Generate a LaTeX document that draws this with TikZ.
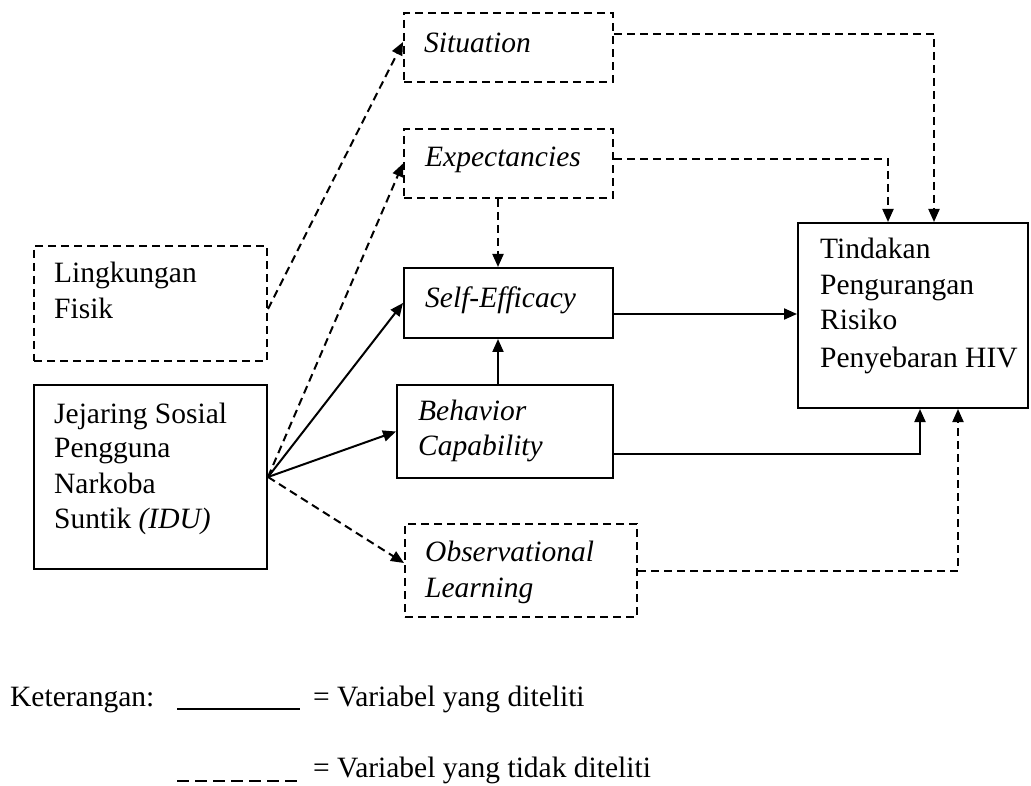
\documentclass[tikz,border=0pt]{standalone}
\usepackage{fontspec}
\setmainfont{Liberation Serif}
\usetikzlibrary{arrows.meta}
\begin{document}
\begin{tikzpicture}[x=1pt,y=-1pt,
  every node/.style={font=\fontsize{29.5}{35.5}\selectfont},
  box/.style={draw, line width=2pt, inner sep=0pt, anchor=north west},
  dbox/.style={box, dash pattern=on 8pt off 5pt},
  lbl/.style={anchor=base west, inner sep=0pt},
  ilbl/.style={lbl, font=\fontsize{29.5}{35.5}\selectfont\itshape},
  arr/.style={line width=2pt, -{Triangle[length=13pt,width=11pt]}},
  darr/.style={arr, dash pattern=on 8pt off 5pt},
  dline/.style={line width=2pt, dash pattern=on 8pt off 5pt},
]
\useasboundingbox (0,0) rectangle (1031,786);

% boxes
\node[dbox, minimum width=209pt, minimum height=69pt]  (sit)  at (403,12)  {};
\node[dbox, minimum width=209pt, minimum height=69pt]  (exp)  at (403,128) {};
\node[box,  minimum width=209pt, minimum height=70pt]  (self) at (403,267) {};
\node[box,  minimum width=216pt, minimum height=93pt]  (beh)  at (396,384) {};
\node[dbox, minimum width=232pt, minimum height=93pt]  (obs)  at (404,523) {};
\node[dbox, minimum width=233pt, minimum height=115pt] (ling) at (33,245)  {};
\node[box,  minimum width=233pt, minimum height=184pt] (jej)  at (33,384)  {};
\node[box,  minimum width=230pt, minimum height=185pt] (tin)  at (797,222) {};

% box texts
\node[ilbl] (sitT)  at (424,53)  {Situation};
\node[ilbl] (expT)  at (425,167) {Expectancies};
\node[ilbl] (selfT) at (425,308) {Self-Efficacy};
\node[ilbl] (behT1) at (418,420) {Behavior};
\node[ilbl] (behT2) at (418,455) {Capability};
\node[ilbl] (obsT1) at (425,561) {Observational};
\node[ilbl] (obsT2) at (425,597) {Learning};
\node[lbl] (lingT1) at (54,283) {Lingkungan};
\node[lbl] (lingT2) at (54,319) {Fisik};
\node[lbl] (jejT1) at (54,423) {Jejaring Sosial};
\node[lbl] (jejT2) at (54,457) {Pengguna};
\node[lbl] (jejT3) at (54,493) {Narkoba};
\node[lbl] (jejT4) at (54,528) {Suntik \textit{(IDU)}};
\node[lbl] (tinT1) at (820,259) {Tindakan};
\node[lbl] (tinT2) at (820,295) {Pengurangan};
\node[lbl] (tinT3) at (820,330) {Risiko};
\node[lbl] (tinT4) at (820,367) {Penyebaran HIV};

% connectors from the left column
\draw[darr] ([yshift=-5.5pt]ling.east) -- ([yshift=5.5pt]sit.west);
\draw[darr] (jej.east) -- (exp.west);
\draw[arr]  (jej.east) -- (self.west);
\draw[arr]  (jej.east) -- (beh.west);
\draw[darr] (jej.east) -- ([yshift=7.5pt]obs.west);

% middle column
\draw[darr] ([xshift=-10.5pt]exp.south) -- ([xshift=-10.5pt]self.north);
\draw[arr]  ([xshift=-7pt]beh.north) -- ([xshift=-10.5pt]self.south);

% into the outcome box
\draw[darr] ([yshift=13.5pt]sit.east) -| ([xshift=21pt]tin.north);
\draw[darr] ([yshift=4.5pt]exp.east) -| ([xshift=-25pt]tin.north);
\draw[arr]  ([yshift=-11pt]self.east) coordinate (se) -- (se -| tin.west);
\draw[arr]  ([yshift=-22.5pt]beh.east) -| ([xshift=7pt]tin.south);
\draw[darr] (obs.east) -| ([xshift=45pt]tin.south);

% legend
\node[lbl] (ket) at (10,706) {Keterangan:};
\coordinate (l1a) at (177,709);
\coordinate (l1b) at (300,709);
\draw[line width=1.5pt] (l1a) -- (l1b);
\node[lbl] (leg1) at (313,706) {= Variabel yang diteliti};
\coordinate (l2a) at (177,781);
\coordinate (l2b) at (300,781);
\draw[line width=1.5pt, dash pattern=on 12pt off 6pt] (l2a) -- (l2b);
\node[lbl] (leg2eq) at (313,777) {=};
\node[lbl] (leg2) at (337,777) {Variabel yang tidak diteliti};
\end{tikzpicture}
\end{document}
